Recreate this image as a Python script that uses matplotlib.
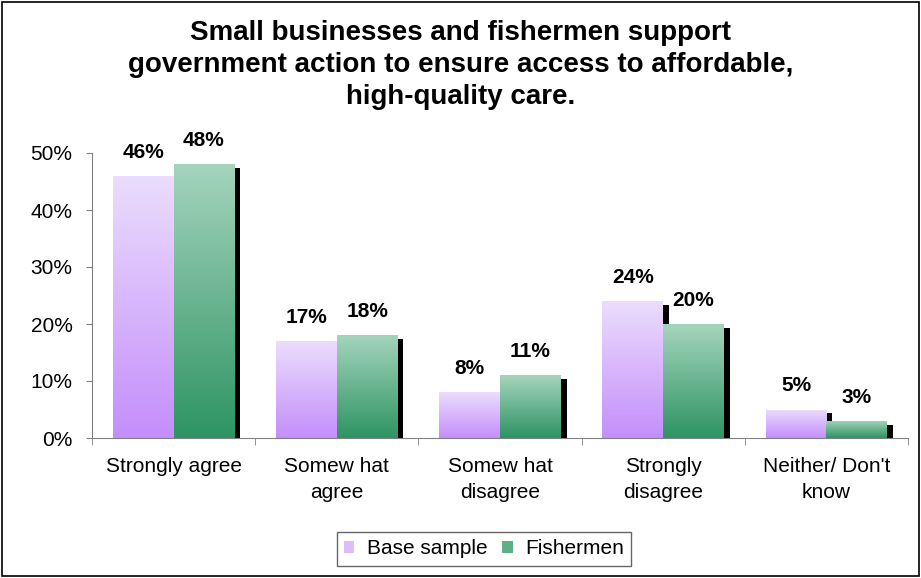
import numpy as np
import matplotlib
matplotlib.use('Agg')
import matplotlib.pyplot as plt
import matplotlib.patheffects as pe
from matplotlib.colors import LinearSegmentedColormap
from matplotlib.patches import Patch, Rectangle
from matplotlib.ticker import FuncFormatter, MultipleLocator

plt.rcParams['font.family'] = ['Liberation Sans', 'DejaVu Sans']

# Dados
categorias = ["Strongly agree", "Somew hat\nagree", "Somew hat\ndisagree",
              "Strongly\ndisagree", "Neither/ Don't\nknow"]
base_sample = [46, 17, 8, 24, 5]
fishermen = [48, 18, 11, 20, 3]
series = ["Base sample", "Fishermen"]
titulo = ("Small businesses and fishermen support\n"
          "government action to ensure access to affordable,\n"
          "high-quality care.")

# Cores em gradiente (base -> topo)
cmap_base = LinearSegmentedColormap.from_list('base', ['#C48EFB', '#EBDDFD'])
cmap_fish = LinearSegmentedColormap.from_list('fish', ['#2E9463', '#A5D4BD'])

fig = plt.figure(figsize=(9.21, 5.78), dpi=100)
ax = fig.add_axes([92 / 921, 1 - 438 / 578, (908 - 92) / 921, (438 - 153) / 578])

x = np.arange(len(categorias))
w = 0.372
sombra = [pe.SimplePatchShadow(offset=(4.3, -2.8), shadow_rgbFace='black', alpha=1.0), pe.Normal()]

grad = np.linspace(0, 1, 256).reshape(-1, 1)
for i, (vals, cmap) in enumerate([(base_sample, cmap_base), (fishermen, cmap_fish)]):
    pos = x - w / 2 + i * w
    barras = ax.bar(pos, vals, width=w, color=cmap(0.5), linewidth=0,
                    path_effects=sombra, zorder=2 + i)
    for b, v in zip(barras, vals):
        im = ax.imshow(grad, cmap=cmap, origin='lower', aspect='auto',
                       extent=(b.get_x(), b.get_x() + b.get_width(), 0, v),
                       zorder=2 + i + 0.5)
        im.set_clip_path(b)
        ax.annotate(f"{v}%", (b.get_x() + b.get_width() / 2, v), xytext=(0, 13),
                    textcoords='offset points', ha='center', va='baseline',
                    fontsize=15, fontweight='bold')

ax.set_xlim(-0.5, len(categorias) - 0.5)
ax.set_ylim(0, 50)
ax.yaxis.set_major_locator(MultipleLocator(10))
ax.yaxis.set_major_formatter(FuncFormatter(lambda v, p: f"{v:.0f}%"))
ax.set_xticks(x)
ax.set_xticklabels(categorias, fontsize=15, linespacing=1.45)
ax.set_xticks(np.arange(-0.5, len(categorias), 1), minor=True)
ax.tick_params(axis='x', which='major', length=0, pad=14)
ax.tick_params(axis='x', which='minor', length=5, color='#808080')
ax.tick_params(axis='y', length=4, color='#808080', labelsize=15, pad=10)
for s in ['top', 'right']:
    ax.spines[s].set_visible(False)
for s in ['left', 'bottom']:
    ax.spines[s].set_color('#808080')
    ax.spines[s].set_zorder(5)

fig.text(0.5, 1 - 20 / 578, titulo, ha='center', va='top', fontsize=20,
         fontweight='bold', linespacing=1.3)

handles = [Patch(facecolor=cmap_base(0.6), label=series[0]),
           Patch(facecolor=cmap_fish(0.4), label=series[1])]
leg = fig.legend(handles=handles, loc='center', bbox_to_anchor=(484 / 921, 1 - 549 / 578),
                 ncol=2, fontsize=15, frameon=True, fancybox=False,
                 handlelength=0.5, handleheight=0.5, handletextpad=0.6,
                 columnspacing=0.7, borderpad=0.35, borderaxespad=0)
leg.get_frame().set_edgecolor('#404040')
leg.get_frame().set_linewidth(1.0)

fig.patches.append(Rectangle((2 / 921, 2 / 578), 917 / 921, 574 / 578, transform=fig.transFigure,
                             fill=False, edgecolor='black', linewidth=1.2))

fig.savefig('out.png', dpi=100)
